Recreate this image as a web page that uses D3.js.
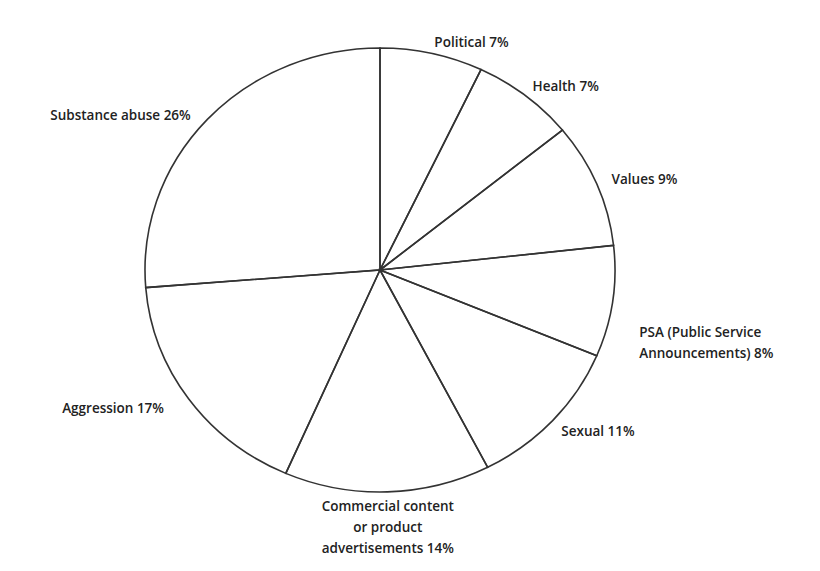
<!DOCTYPE html>
<html><head><meta charset="utf-8">
<script src="https://cdn.jsdelivr.net/npm/d3@7"></script>
<style>body{margin:0;background:#fff}text{font-family:"Open Sans","DejaVu Sans",sans-serif;font-weight:600;font-size:13.5px;fill:#222}</style>
</head><body><svg id="chart" width="820" height="571"></svg>
<script>
// slices clockwise from 12 o'clock
const categories = ["Political", "Health", "Values", "PSA", "Sexual", "Commercial", "Aggression", "Substance abuse"];
const values = [7, 7, 9, 8, 11, 14, 17, 26];
const labels = [
  ["Political 7%"],
  ["Health 7%"],
  ["Values 9%"],
  ["PSA (Public Service", "Announcements) 8%"],
  ["Sexual 11%"],
  ["Commercial content", "or product", "advertisements 14%"],
  ["Aggression 17%"],
  ["Substance abuse 26%"]
];

const svg = d3.select("#chart");
const cx = 380, cy = 270, rx = 235, ry = 222;

const pie = d3.pie().sort(null).value(d => d)(values);
const arc = d3.arc().innerRadius(0).outerRadius(rx);

const g = svg.append("g").attr("transform", `translate(${cx},${cy}) scale(1,${ry / rx})`);
g.selectAll("path").data(pie).join("path")
  .attr("d", arc)
  .attr("fill", "none")
  .attr("stroke", "#333")
  .attr("stroke-width", 1.6)
  .attr("vector-effect", "non-scaling-stroke");

// small label tweaks
const nudge = {3: [15, 38], 2: [4, 0], 6: [-15, 0], 7: [-8, 4]};

pie.forEach((p, i) => {
  const a = (p.startAngle + p.endAngle) / 2;
  const s = Math.sin(a), c = Math.cos(a);
  let x = cx + s * rx * 1.05, y = cy - c * ry * 1.05;
  const n = nudge[i] || [0, 0];
  x += n[0]; y += n[1];
  const anchor = Math.abs(s) < 0.2 ? "middle" : (s > 0 ? "start" : "end");
  const lines = labels[i];
  const t = svg.append("text").attr("x", x).attr("y", y).attr("text-anchor", anchor);
  const offset = c < -0.2 ? 8 : 4 - (lines.length - 1) * 8;
  lines.forEach((l, j) => t.append("tspan").attr("x", x)
    .attr("y", y + offset + j * 21).text(l));
});
</script></body></html>
